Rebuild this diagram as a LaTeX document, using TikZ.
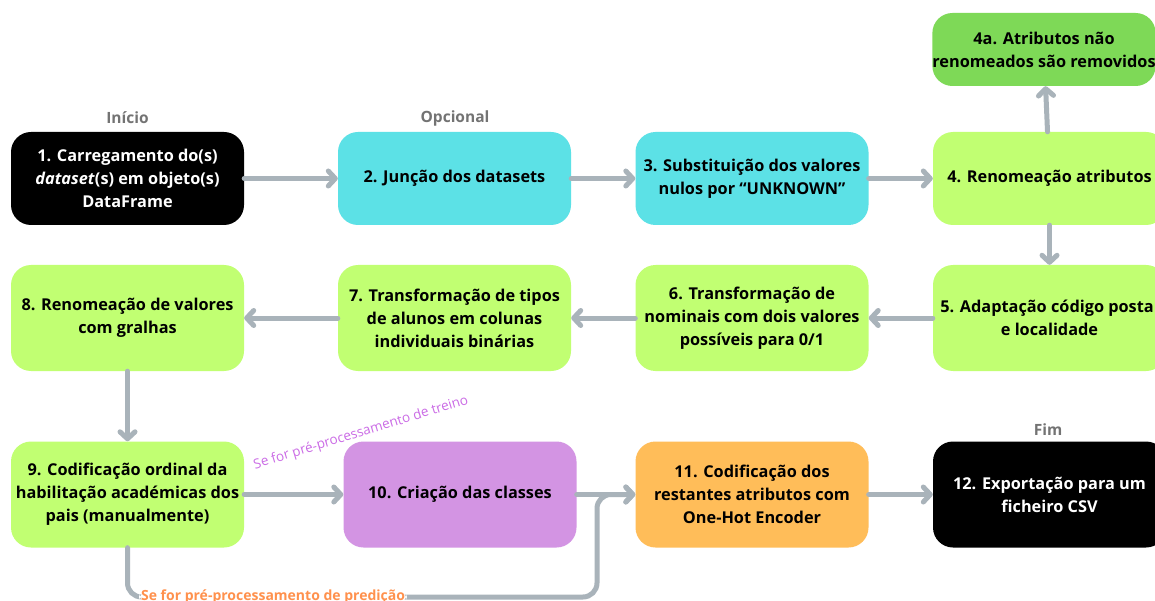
\documentclass[tikz,border=0pt]{standalone}
\usepackage{fontspec}
\setmainfont{Open Sans}
\usetikzlibrary{arrows.meta}

\definecolor{boxcyan}{HTML}{5CE1E6}
\definecolor{boxlime}{HTML}{C1FF72}
\definecolor{boxgreen}{HTML}{7ED957}
\definecolor{boxpurple}{HTML}{D394E3}
\definecolor{boxorange}{HTML}{FFBD59}
\definecolor{flowgray}{HTML}{A9B3BA}
\definecolor{tagtext}{HTML}{737373}
\definecolor{treinotext}{HTML}{CB6CE6}
\definecolor{predtext}{HTML}{FF914D}

\begin{document}
\begin{tikzpicture}[x=1pt, y=-1pt, font=\bfseries\fontsize{16.3}{23}\selectfont,
    main/.style = {rounded corners=20pt, minimum width=233pt, align=center, inner sep=0pt},
    rowa/.style = {main, minimum height=93pt},
    rowb/.style = {main, minimum height=106pt},
    flow/.style = {draw=flowgray, line width=5pt, line cap=round,
                   -{Straight Barb[length=7pt, width=15pt, round]}},
    tag/.style = {text=tagtext, font=\bfseries\fontsize{15.5}{18}\selectfont}]
    \clip (0,0) rectangle (1155,601);
    \fill[white] (0,0) rectangle (1155,601);

    % first row
    \node[rowa, fill=black, text=white] (1) at (127.5,178.5) {1. Carregamento do(s)\\\textit{dataset}(s) em objeto(s)\\DataFrame};
    \node[rowa, fill=boxcyan] (2) at (454.5,178.5) {2. Junção dos datasets};
    \node[rowa, fill=boxcyan] (3) at (752,178.5) {3. Substituição dos valores\\nulos por “UNKNOWN”};
    \node[rowa, fill=boxlime] (4) at (1049.5,178.5) {4. Renomeação atributos};
    \node[main, fill=boxgreen, minimum width=222pt, minimum height=73pt] (4a) at (1044,49.5) {4a. Atributos não\\renomeados são removidos};

    % second row
    \node[rowb, fill=boxlime] (5) at (1049.5,318) {5. Adaptação código postal\\e localidade};
    \node[rowb, fill=boxlime] (6) at (752,318) {6. Transformação de\\nominais com dois valores\\possíveis para 0/1};
    \node[rowb, fill=boxlime] (7) at (454.5,318) {7. Transformação de tipos\\de alunos em colunas\\individuais binárias};
    \node[rowb, fill=boxlime] (8) at (127.5,318) {8. Renomeação de valores\\com gralhas};

    % third row
    \node[rowb, fill=boxlime] (9) at (127.5,494.5) {9. Codificação ordinal da\\habilitação académicas dos\\pais (manualmente)};
    \node[rowb, fill=boxpurple] (10) at (460,494.5) {10. Criação das classes};
    \node[rowb, fill=boxorange] (11) at (752,494.5) {11. Codificação dos\\restantes atributos com\\One-Hot Encoder};
    \node[rowb, fill=black, text=white] (12) at (1049.5,494.5) {12. Exportação para um\\ficheiro CSV};

    % tags
    \node[tag] (inicio) at (127.5,118) {Início};
    \node[tag] (opcional) at (455,118) {Opcional};
    \node[tag] (fim) at (1048,430) {Fim};
    \node[rotate=17, text=treinotext, font=\mdseries\fontsize{13.5}{15}\selectfont] (treino) at (361,433) {Se for pré-processamento de treino};

    \draw[flow] (1) -- (2);
    \draw[flow] (2) -- (3);
    \draw[flow] (3) -- (4);
    \draw[flow] (4) -- (4a);
    \draw[flow] (4) -- (5);
    \draw[flow] (5) -- (6);
    \draw[flow] (6) -- (7);
    \draw[flow] (7) -- (8);
    \draw[flow] (8) -- (9);
    \draw[flow] (9) -- (10);
    \draw[flow] (10) -- (11);
    \draw[flow] (11) -- (12);

    % prediction branch
    \coordinate (predturn) at (597,597);
    \draw[flow, rounded corners=14pt] (9.south) |- node[pos=0.655, fill=white, inner sep=2pt,
        text=predtext, font=\bfseries\fontsize{14}{16}\selectfont] (predicao) {Se for pré-processamento de predição}
        (predturn) |- (11.west);
\end{tikzpicture}
\end{document}
